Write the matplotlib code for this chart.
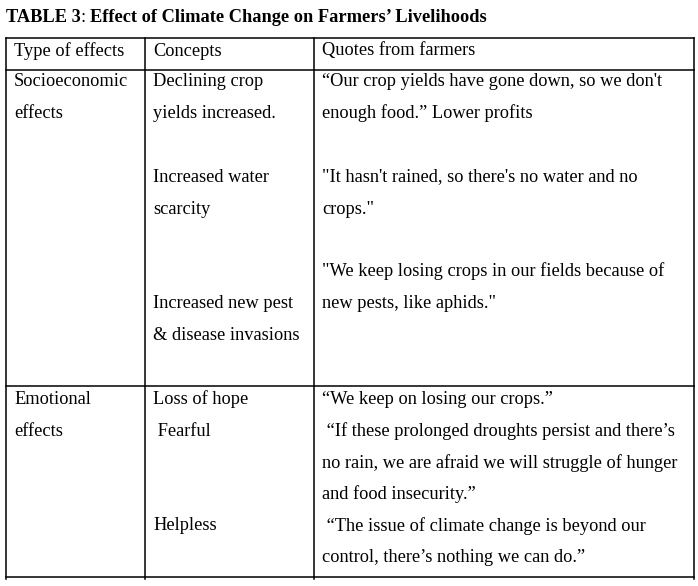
import matplotlib.pyplot as plt

plt.rcParams['font.family'] = ['Liberation Serif', 'DejaVu Serif']

title_bold = "TABLE 3"
title_rest = ": "
title_tail = "Effect of Climate Change on Farmers’ Livelihoods"

headers = ["Type of effects", "Concepts", "Quotes from farmers"]

# text lines of each column with the row position they sit on
types = [("Socioeconomic", 81), ("effects", 113), ("Emotional", 399), ("effects", 431)]
concepts = [("Declining crop", 81), ("yields increased.", 113),
            ("Increased water", 177), ("scarcity", 209),
            ("Increased new pest", 303), ("& disease invasions", 335),
            ("Loss of hope", 399), (" Fearful", 431), ("Helpless", 526)]
quotes = [("“Our crop yields have gone down, so we don't", 81),
          ("enough food.” Lower profits", 113),
          ("\"It hasn't rained, so there's no water and no", 177),
          ("crops.\"", 209),
          ("\"We keep losing crops in our fields because of", 271),
          ("new pests, like aphids.\"", 303),
          ("“We keep on losing our crops.”", 399),
          (" “If these prolonged droughts persist and there’s", 431),
          ("no rain, we are afraid we will struggle of hunger", 463),
          ("and food insecurity.”", 494),
          (" “The issue of climate change is beyond our", 526),
          ("control, there’s nothing we can do.”", 558)]

col_x = [6, 145, 314, 694]
row_y = [38, 70, 386, 577]
text_x = [14, 153, 322]

fig = plt.figure(figsize=(6.98, 5.86), dpi=100)
ax = fig.add_axes([0, 0, 1, 1])
ax.set_xlim(0, 698)
ax.set_ylim(586, 0)
ax.axis('off')

fs = 13.2
# title: bold parts with a plain colon between them
t = ax.text(6, 17, title_bold, fontsize=fs, fontweight='bold', va='center')
fig.canvas.draw()
bb = t.get_window_extent()
t2 = ax.text(bb.x1, 586 - 17, title_rest, fontsize=fs, va='center', transform=None)
bb2 = t2.get_window_extent()
ax.text(bb2.x1, 586 - 17, title_tail, fontsize=fs, fontweight='bold', va='center', transform=None)

# grid lines
for x in col_x:
    ax.plot([x, x], [row_y[0], row_y[-1] + 2], color='black', lw=1.1)
for y in row_y:
    ax.plot([col_x[0], col_x[-1]], [y, y], color='black', lw=1.1)

for i, h in enumerate(headers):
    ax.text(text_x[i], 51, h, fontsize=fs, va='center')

for col, items in enumerate([types, concepts, quotes]):
    for s, y in items:
        ax.text(text_x[col], y, s, fontsize=fs, va='center')

fig.savefig('out.png', dpi=100)
